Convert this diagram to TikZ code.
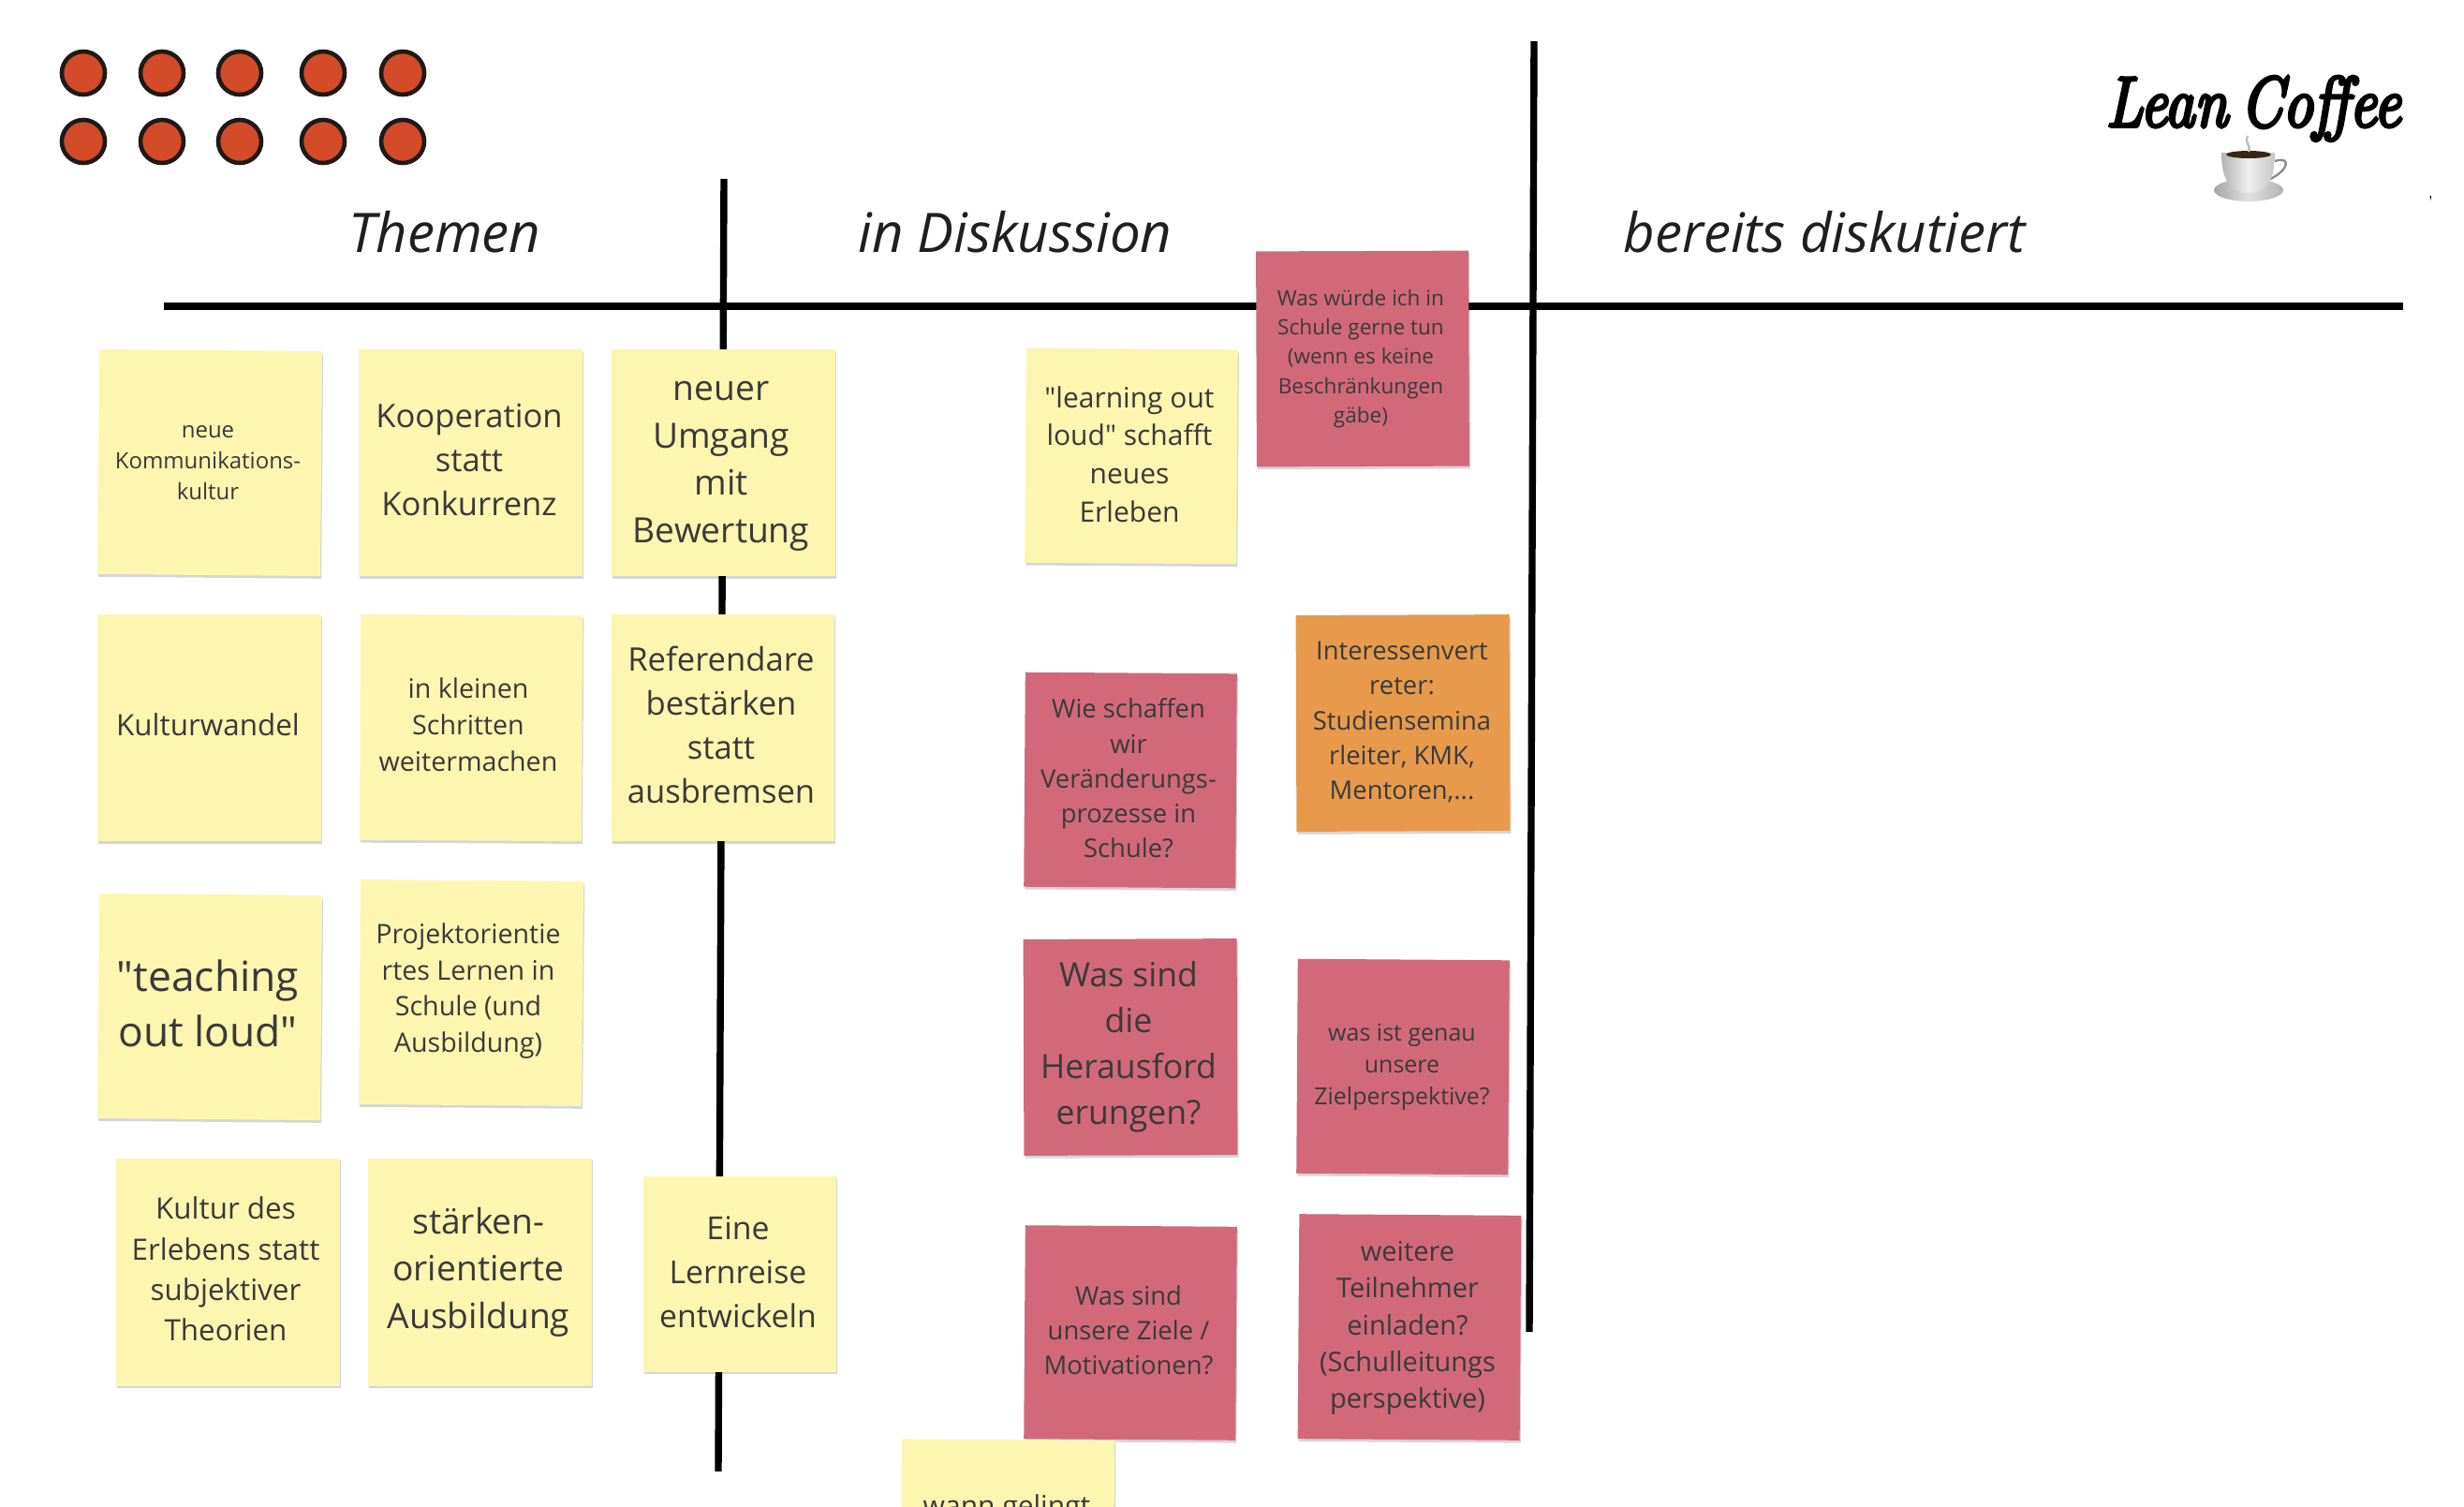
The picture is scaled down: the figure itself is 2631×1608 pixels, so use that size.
\documentclass[tikz,border=0pt]{standalone}
\usepackage{fontspec}
\usetikzlibrary{shadows}
\newfontfamily\osans{Open Sans}
\newfontfamily\logofont[FakeBold=5,WordSpace=0.6]{Latin Modern Roman}
\newcommand\fsz[2]{\fontsize{#1pt}{#2pt}\selectfont}
\definecolor{noteyellow}{HTML}{FDF6B0}
\definecolor{notepink}{HTML}{D2697B}
\definecolor{noteorange}{HTML}{E89A4C}
\definecolor{notetext}{HTML}{3A3A3A}
\definecolor{dotred}{HTML}{D34B28}
\definecolor{dotline}{HTML}{1E1A18}
\tikzset{
  sticky/.style 2 args={draw=none,inner sep=0pt,minimum width={#1*0.5pt},minimum height={#2*0.5pt},
    drop shadow={shadow xshift=0.6pt,shadow yshift=-1.4pt,opacity=.16,fill=black}},
  yel/.style={fill=noteyellow},
  pnk/.style={fill=notepink},
  org/.style={fill=noteorange},
  lbl/.style={align=center,inner sep=0pt,text=notetext},
  heading/.style={inner sep=0pt,text=black!88,font=\osans\itshape\fsz{29.1}{36}},
  rule/.style={line width=3.7pt,black},
  dot/.style={circle,draw=dotline,line width=2.3pt,fill=dotred,minimum size=23pt,inner sep=0pt}
}
\begin{document}
\begin{tikzpicture}[x=0.5pt,y=-0.5pt]
\useasboundingbox (0,0) rectangle (2631,1608);
\clip (0,0) rectangle (2631,1608);
\fill[white] (0,0) rectangle (2631,1608);
% rules
\coordinate (hl) at (175,327); \coordinate (hr) at (2566,327);
\coordinate (vat) at (773,191); \coordinate (vab) at (767,1571);
\coordinate (vbt) at (1638,44); \coordinate (vbb) at (1633,1422);
\draw[rule] (hl) -- (hr);
\draw[rule] (vat) -- (vab);
\draw[rule] (vbt) -- (vbb);
% dots
\foreach \nm/\x in {a/89,b/173,c/256,d/345,e/430}{
  \node[dot] (dot1\nm) at (\x,78) {};
  \node[dot] (dot2\nm) at (\x,151) {};
}
% headings
\node[heading] (h1) at (475,248) {Themen};
\node[heading] (h2) at (1084,248) {in Diskussion};
\node[heading] (h3) at (1948,248) {bereits diskutiert};
% logo
\node[inner sep=0pt,anchor=base,xscale=0.85,font=\logofont\itshape\fsz{38}{40}] (logo) at (2406,135) {Lean Coffee};
\shade[left color=black!35,right color=black!30,middle color=black!12] (2401,203) ellipse (37 and 12);
\draw[black!45,line width=1.2pt] (2429,172) .. controls (2446,166) and (2446,182) .. (2420,193);
\shade[left color=black!30,right color=black!22,middle color=black!6]
  (2372,163) .. controls (2372,190) and (2380,206) .. (2401,206) .. controls (2422,206) and (2429,190) .. (2429,163) -- cycle;
\fill[black!70!brown] (2401,165) ellipse (24 and 4);
\draw[black!25,line width=1.2pt] (2400,145) .. controls (2396,152) and (2404,155) .. (2401,162);
\fill[black] (2594.5,209) -- (2596,209) -- (2595.5,214) -- cycle;
% notes
\node[sticky={238}{240},yel,rotate=-0.5] (n1) at (224,494) {};
\node[lbl,font=\osans\fsz{12}{16.4}] (t1) at (222,494) {neue\\Kommunikations-\\kultur};
\node[sticky={239}{242},yel] (n2) at (502,494) {};
\node[lbl,font=\osans\fsz{17.3}{23.5}] (t2) at (501,491) {Kooperation\\statt\\Konkurrenz};
\node[sticky={239}{242},yel] (n3) at (772,494) {};
\node[lbl,font=\osans\fsz{18.6}{25.3}] (t3) at (770,498) {neuer\\Umgang\\mit\\Bewertung};
\node[sticky={239}{242},yel] (n4) at (223,777) {};
\node[lbl,font=\osans\fsz{15.7}{21}] (t4) at (222,774) {Kulturwandel};
\node[sticky={237}{241},yel,rotate=-0.3] (n5) at (503,777) {};
\node[lbl,font=\osans\fsz{14.3}{19.4}] (t5) at (500,774) {in kleinen\\Schritten\\weitermachen};
\node[sticky={238}{242},yel] (n6) at (772,777) {};
\node[lbl,font=\osans\fsz{17.3}{23.5}] (t6) at (770,774) {Referendare\\bestärken\\statt\\ausbremsen};
\node[sticky={238}{240},yel,rotate=-0.5] (n7) at (224,1075) {};
\node[lbl,font=\osans\fsz{22.2}{29.6}] (t7) at (222,1071) {"teaching\\out loud"};
\node[sticky={238}{240},yel,rotate=-0.5] (n8) at (503,1060) {};
\node[lbl,font=\osans\fsz{14.3}{19.4}] (t8) at (500,1058) {Projektorientie\\rtes Lernen in\\Schule (und\\Ausbildung)};
\node[sticky={239}{243},yel] (n9) at (243,1358) {};
\node[lbl,font=\osans\fsz{15.7}{21.6}] (t9) at (241,1355) {Kultur des\\Erlebens statt\\subjektiver\\Theorien};
\node[sticky={239}{243},yel] (n10) at (512,1358) {};
\node[lbl,font=\osans\fsz{18.6}{25.3}] (t10) at (511,1358) {stärken-\\orientierte\\Ausbildung};
\node[sticky={206}{209},yel] (n11) at (790,1360) {};
\node[lbl,font=\osans\fsz{16.9}{23.5}] (t11) at (788,1358) {Eine\\Lernreise\\entwickeln};
\node[sticky={226}{229},yel,rotate=-0.4] (n12) at (1208,487) {};
\node[lbl,font=\osans\fsz{15}{20.4}] (t12) at (1206,485) {"learning out\\loud" schafft\\neues\\Erleben};
\node[sticky={227}{230},pnk,rotate=0.2] (n13) at (1455,383) {};
\node[lbl,font=\osans\fsz{11.3}{15.7}] (t13) at (1453,383) {Was würde ich in\\Schule gerne tun\\(wenn es keine\\Beschränkungen\\gäbe)};
\node[sticky={226}{229},pnk,rotate=-0.4] (n14) at (1207,833) {};
\node[lbl,font=\osans\fsz{13.7}{18.6}] (t14) at (1205,831) {Wie schaffen\\wir\\Veränderungs-\\prozesse in\\Schule?};
\node[sticky={228}{231},fill=noteorange,rotate=0.2] (n15) at (1498,772) {};
\node[lbl,font=\osans\fsz{13.7}{18.6}] (t15) at (1497,771) {Interessenvert\\reter:\\Studiensemina\\rleiter, KMK,\\Mentoren,...};
\node[sticky={228}{231},pnk,rotate=0.2] (n16) at (1207,1118) {};
\node[lbl,font=\osans\fsz{17.8}{24.5}] (t16) at (1205,1118) {Was sind\\die\\Herausford\\erungen?};
\node[sticky={226}{229},pnk,rotate=-0.4] (n17) at (1498,1139) {};
\node[lbl,font=\osans\fsz{12.5}{17}] (t17) at (1497,1139) {was ist genau\\unsere\\Zielperspektive?};
\node[sticky={226}{228},pnk,rotate=-0.4] (n18) at (1207,1423) {};
\node[lbl,font=\osans\fsz{13.7}{18.6}] (t18) at (1205,1420) {Was sind\\unsere Ziele /\\Motivationen?};
\node[sticky={237}{240},pnk,rotate=-0.4] (n19) at (1505,1417) {};
\node[lbl,font=\osans\fsz{14.5}{19.7}] (t19) at (1503,1418) {weitere\\Teilnehmer\\einladen?\\(Schulleitungs\\perspektive)};
\node[sticky={227}{230},yel,rotate=-0.3] (n20) at (1076,1652) {};
\node[lbl,anchor=base,font=\osans\fsz{15}{20.4}] (t20) at (1075,1618) {wann gelingt};
\end{tikzpicture}
\end{document}
